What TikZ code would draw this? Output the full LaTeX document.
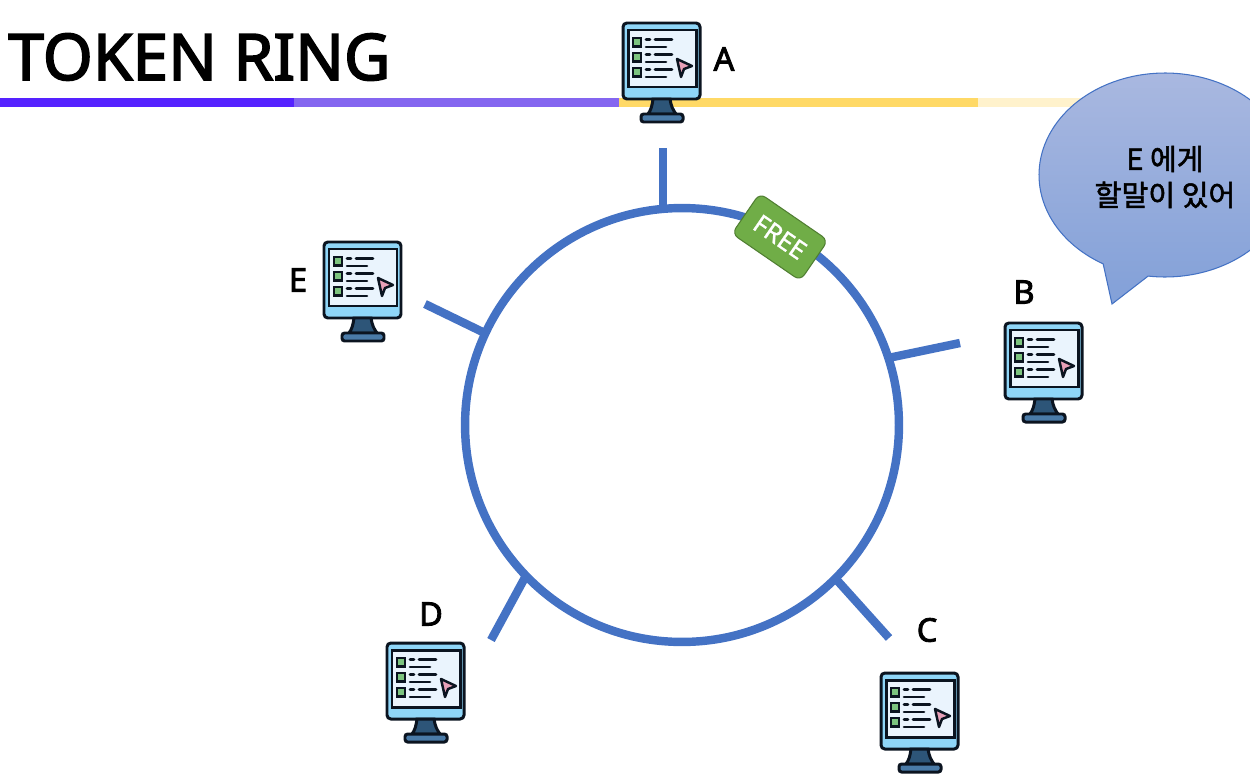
\documentclass[tikz,border=0pt]{standalone}
\usepackage{fontspec}
\setmainfont{Noto Sans}
\newfontfamily\labelfont[FakeBold=2.6]{Noto Sans}
\newfontfamily\tokenfont[FakeBold=1]{Noto Sans}
\newfontfamily\krfont[FakeBold=1.8]{Noto Sans CJK KR}
\definecolor{ringblue}{HTML}{4472C4}
\definecolor{barA}{HTML}{5522FF}
\definecolor{barB}{HTML}{8466F0}
\definecolor{barC}{HTML}{FFD966}
\definecolor{barD}{HTML}{FFF2CC}
\definecolor{bezel}{HTML}{8FD6F8}
\definecolor{screenc}{HTML}{EAF4FD}
\definecolor{standc}{HTML}{2D5578}
\definecolor{basec}{HTML}{4A7BA8}
\definecolor{outl}{HTML}{0B1420}
\definecolor{checkc}{HTML}{7CC47F}
\definecolor{cursorc}{HTML}{E8A0B8}
\definecolor{freefill}{HTML}{70AD47}
\definecolor{freeline}{HTML}{507E32}
\definecolor{callT}{HTML}{A9B8E0}
\definecolor{callB}{HTML}{82A0D8}
\tikzset{
  stub/.style={draw=ringblue,line width=4.8pt},
  hostlabel/.style={font=\labelfont\fontsize{18.5}{18.5}\selectfont,text=black,inner sep=0pt},
  mline/.style={draw=outl,line width=1.5pt,line cap=round},
  computer/.pic={
    \draw[outl,line width=1.7pt,fill=bezel,rounded corners=2.2pt] (1,1) rectangle (78,77);
    \draw[outl,line width=1.7pt,fill=screenc] (6,8) rectangle (74,65);
    \draw[outl,line width=1.7pt,fill=standc] (31,77) -- (48,77) .. controls (49,84) and (51,88) .. (54,92) -- (26,92) .. controls (29,88) and (30,84) .. (31,77) -- cycle;
    \draw[outl,line width=1.7pt,fill=basec,rounded corners=1.5pt] (19,92) rectangle (61,100);
    \foreach \yy in {16,31,46}{
      \draw[outl,line width=1.4pt,fill=checkc] (11,\yy) rectangle (19,\yy+8.5);
      \draw[mline] (24,\yy+1.5) -- (28,\yy+1.5);
      \draw[mline] (33,\yy+1.5) -- (50,\yy+1.5);
      \draw[mline] (24,\yy+9) -- (44,\yy+9);
    }
    \draw[outl,line width=1.4pt,fill=cursorc,line join=round] (55,37) -- (70,44) -- (62,47) -- (59,55) -- cycle;
  }
}
\begin{document}
\begin{tikzpicture}[x=0.02cm,y=-0.02cm]
\useasboundingbox (0,0) rectangle (1250,781);
\clip (0,0) rectangle (1250,781);
% header bars
\fill[barA] (0,98) rectangle (294,107);
\fill[barB] (294,98) rectangle (619,107);
\fill[barC] (619,98) rectangle (978,107);
\fill[barD] (978,98) rectangle (1090,107);
\node[anchor=west,inner sep=0pt,font=\labelfont\fontsize{36.5}{36.5}\selectfont] (title) at (8,57) {TOKEN RING};
% ring
\node[circle,draw=ringblue,line width=4.8pt,minimum size=8.68cm,inner sep=0pt,outer sep=0pt] (ring) at (682,425) {};
\coordinate (endA) at (663,148);
\coordinate (endB) at (960,343);
\coordinate (endC) at (889,638);
\coordinate (endD) at (491,640);
\coordinate (endE) at (425,304);
\draw[stub] (ring.95) -- (ring.95 |- endA);
\draw[stub] (ring.18) -- (endB);
\draw[stub] (ring.-45.4) -- (endC);
\draw[stub] (ring.224.1) -- (endD);
\draw[stub] (ring.155) -- (endE);
% computers
\pic at (622,22) {computer};
\pic at (1004,322) {computer};
\pic at (880,672) {computer};
\pic at (386,642) {computer};
\pic at (323,241) {computer};
\node[hostlabel] (labA) at (724,59) {A};
\node[hostlabel] (labB) at (1024,292) {B};
\node[hostlabel] (labC) at (927,630) {C};
\node[hostlabel] (labD) at (431,614) {D};
\node[hostlabel] (labE) at (298,280) {E};
% token
\node[draw=freeline,line width=0.6pt,fill=freefill,rounded corners=4pt,rotate=-34.5,minimum width=1.66cm,minimum height=0.98cm,inner sep=0pt,text=white,font=\tokenfont\fontsize{14.5}{14.5}\selectfont] (token) at (780,237) {FREE};
% callout
\path[draw=ringblue,line width=0.6pt,top color=callT,bottom color=callB,line join=miter]
  plot[domain=119.4:457.7,samples=140] ({1165+126*cos(\x)},{175+102*sin(\x)}) -- (1112,304) -- cycle;
\node[align=center,inner sep=0pt,font=\krfont\fontsize{16.6}{20.5}\selectfont] (say) at (1165,177) {E 에게\\할말이 있어};
\end{tikzpicture}
\end{document}
